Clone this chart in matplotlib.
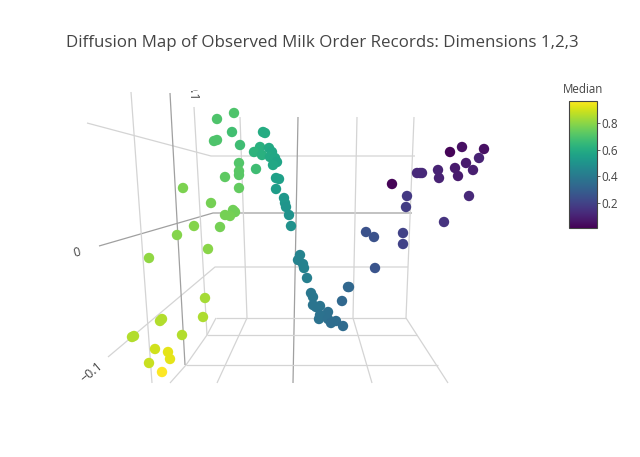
import matplotlib
matplotlib.use("Agg")
import matplotlib.pyplot as plt
import numpy as np

# ---- data (projected positions of the 3-D points as seen in the view, and their Median value)
proj_x = [234, 217, 232, 214, 217, 240, 263, 265, 260, 254, 262, 269, 272, 270, 275, 277, 273,
          239, 239, 239, 256, 225, 276, 279, 276, 239, 183, 211, 284, 285, 286, 233, 235, 225,
          230, 289, 291, 220, 194, 177, 208, 149, 205, 203, 160, 162, 132, 134, 182, 155, 168,
          170, 149, 162,
          300, 298, 303, 304, 307, 311, 313, 313, 316, 320, 328, 320, 319, 328, 331, 336, 343,
          342, 348, 349, 366, 374, 375, 403, 403, 406, 407, 392, 417, 420, 422, 438, 439, 444,
          450, 462, 455, 458, 466, 473, 469, 479, 484]
proj_y = [113, 119, 132, 141, 140, 145, 132, 133, 147, 152, 155, 148, 152, 157, 158, 162, 165,
          163, 171, 175, 169, 177, 178, 179, 189, 188, 188, 203, 198, 203, 207, 210, 212, 215,
          216, 215, 226, 227, 226, 235, 249, 258, 298, 317, 321, 319, 337, 336, 335, 349, 352,
          359, 363, 372,
          255, 260, 264, 268, 278, 293, 297, 305, 307, 306, 312, 315, 319, 319, 323, 321, 326,
          301, 287, 287, 232, 237, 268, 233, 244, 207, 196, 184, 173, 173, 173, 170, 178, 222,
          152, 147, 168, 176, 163, 170, 196, 158, 149]
median = [0.70, 0.70, 0.68, 0.70, 0.70, 0.67, 0.60, 0.60, 0.62, 0.63, 0.62, 0.59, 0.58, 0.59,
          0.58, 0.57, 0.58, 0.71, 0.72, 0.72, 0.67, 0.73, 0.55, 0.55, 0.54, 0.74, 0.78, 0.77,
          0.52, 0.52, 0.51, 0.76, 0.76, 0.77, 0.77, 0.50, 0.49, 0.77, 0.79, 0.79, 0.80, 0.81,
          0.84, 0.85, 0.86, 0.86, 0.86, 0.86, 0.86, 0.90, 0.93, 0.93, 0.89, 0.98,
          0.44, 0.44, 0.43, 0.43, 0.42, 0.39, 0.39, 0.38, 0.38, 0.38, 0.36, 0.37, 0.37, 0.36,
          0.35, 0.35, 0.34, 0.33, 0.33, 0.33, 0.25, 0.25, 0.26, 0.20, 0.20, 0.18, 0.17, 0.02,
          0.12, 0.12, 0.12, 0.10, 0.10, 0.15, 0.02, 0.05, 0.08, 0.08, 0.08, 0.09, 0.12, 0.10,
          0.05]
cmin, cmax = 0.01, 0.97
cbar_ticks = [0.2, 0.4, 0.6, 0.8]
title = "Diffusion Map of Observed Milk Order Records: Dimensions 1,2,3"

# ---- scene decoration (perspective grid of the 3-D box, in view pixels)
LIGHT, DARK = "#d4d4d4", "#a0a0a0"
grid_segments = [
    ([(87, 123), (211, 156), (415, 156)], LIGHT),
    ([(99, 246), (213, 213), (412, 213)], DARK),
    ([(108, 357), (215, 267), (408, 267)], LIGHT),
    ([(240, 117), (247, 318)], LIGHT),
    ([(298, 117), (293, 383)], DARK),
    ([(357, 117), (353, 318), (372, 383)], LIGHT),
    ([(414, 117), (406, 318), (448, 383)], LIGHT),
    ([(216, 318), (406, 318)], LIGHT),
    ([(207, 335), (417, 335)], LIGHT),
    ([(186, 365), (438, 365)], LIGHT),
    ([(247, 318), (217, 383)], LIGHT),
    ([(216, 318), (207, 335), (186, 365), (170, 383)], LIGHT),
    ([(131, 92), (152, 383)], LIGHT),
    ([(170, 93), (185, 365)], DARK),
    ([(194, 107), (207, 335)], LIGHT),
]

W, H = 640, 457
fig = plt.figure(figsize=(W / 100, H / 100), dpi=100)
ax = fig.add_axes([0, 0, 1, 1])
ax.set_xlim(0, W)
ax.set_ylim(H, 0)
ax.axis("off")

for pts, col in grid_segments:
    xs, ys = zip(*pts)
    ax.plot(xs, ys, color=col, lw=0.9, solid_capstyle="butt", zorder=1)

sc = ax.scatter(proj_x, proj_y, c=median, cmap="viridis", vmin=cmin, vmax=cmax,
                s=56, linewidths=0, zorder=3)

tick_font = dict(family="Open Sans", size=9, color="#444444")
ax.text(77, 253, "0", ha="center", va="center", rotation=15, **tick_font)
ax.text(92, 372, "\u22120.1", ha="center", va="center", rotation=40, **tick_font)

# the "0.1" label of the vertical axis is cut by the top of the 3-D scene
scene_ax = fig.add_axes([0, 1 - 383 / H, 1, (383 - 90) / H])
scene_ax.set_xlim(0, W)
scene_ax.set_ylim(383, 90)
scene_ax.axis("off")
t = scene_ax.text(193, 92, "0.1", ha="center", va="center", rotation=-90, clip_on=True,
                  **tick_font)

fig.text(322 / W, 1 - 43 / H, title, ha="center", va="center",
         family="Open Sans", size=12.2, color="#444444")

cax = fig.add_axes([569 / W, 1 - 228 / H, 28 / W, 127 / H])
cb = fig.colorbar(sc, cax=cax, ticks=cbar_ticks)
cb.outline.set_edgecolor("#444444")
cb.outline.set_linewidth(0.8)
cax.tick_params(labelsize=8.5, colors="#444444", length=2, width=0.6, pad=1)
for lab in cax.get_yticklabels():
    lab.set_family("Open Sans")
cax.set_title("Median", fontsize=8.3, color="#444444", family="Open Sans", pad=6)

fig.savefig("out.png", dpi=100)
